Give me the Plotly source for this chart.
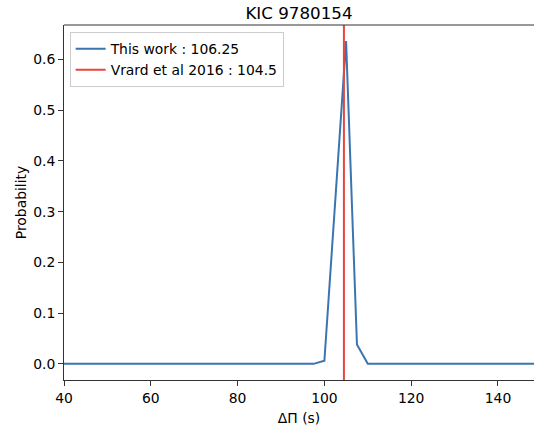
import plotly.graph_objects as go

# Data
dpi_values = [40, 97.5, 100, 105, 107.5, 110, 150]
probability = [0.0, 0.0, 0.006, 0.636, 0.038, 0.0, 0.0]
vrard_value = 104.5
this_work_label = "This work : 106.25"
vrard_label = "Vrard et al 2016 : 104.5"
x_ticks = [40, 60, 80, 100, 120, 140]
y_ticks = [0.0, 0.1, 0.2, 0.3, 0.4, 0.5, 0.6]

blue = "#3a75b0"
red = "#e8453c"
font = "DejaVu Sans"
fs = 13.9

fig = go.Figure()
fig.add_trace(go.Scatter(x=dpi_values, y=probability, mode="lines",
                         line=dict(color=blue, width=2), name=this_work_label))
fig.add_trace(go.Scatter(x=[vrard_value, vrard_value], y=[-1, 2], mode="lines",
                         line=dict(color=red, width=2), name=vrard_label))

fig.update_layout(
    width=534, height=430,
    margin=dict(l=64, r=0, t=25, b=50),
    paper_bgcolor="white", plot_bgcolor="white",
    font=dict(family=font, size=fs, color="black"),
    title=dict(text="KIC 9780154", x=0.5, xref="paper", xanchor="center",
               y=1, yref="paper", yanchor="bottom", pad=dict(b=6),
               font=dict(size=16.7, family=font)),
    showlegend=True,
    legend=dict(x=0.012, y=0.98, xanchor="left", yanchor="top",
                bgcolor="rgba(255,255,255,0.8)", bordercolor="#cccccc", borderwidth=1,
                font=dict(size=fs, family=font), itemwidth=30, tracegroupgap=0),
)
fig.update_xaxes(range=[40, 148.3], tickvals=x_ticks, ticks="outside", ticklen=5,
                 tickcolor="#333333", showgrid=False, zeroline=False, showline=True,
                 linecolor="#333333", linewidth=1, mirror=False,
                 tickfont=dict(size=fs),
                 title=dict(text="ΔΠ (s)", font=dict(size=fs), standoff=8))
fig.update_yaxes(range=[-0.0318, 0.6678], tickvals=y_ticks, tickformat=".1f",
                 ticks="outside", ticklen=5, tickcolor="#333333", showgrid=False,
                 zeroline=False, showline=True, linecolor="#333333", linewidth=1,
                 tickfont=dict(size=fs),
                 title=dict(text="Probability", font=dict(size=fs), standoff=3))
# top spine
fig.add_shape(type="line", xref="paper", yref="paper", x0=0, x1=1, y0=1, y1=1,
              line=dict(color="#333333", width=1))

fig.write_html("out.html", config={"displayModeBar": False},
               post_script="document.body.style.margin='0';")
